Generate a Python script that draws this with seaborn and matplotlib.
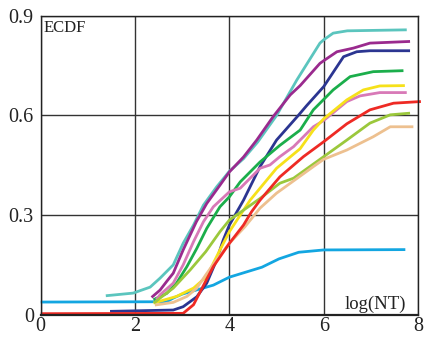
import matplotlib
matplotlib.use("Agg")
import matplotlib.pyplot as plt
import seaborn as sns
import pandas as pd

# ---- data (log(NT) vs ECDF) ----
teal_x = [1.38, 1.96, 2.32, 2.53, 2.81, 3.02, 3.24, 3.45, 3.73, 4.0, 4.3, 4.6, 5.0, 5.43, 5.92, 6.0, 6.2, 6.5, 7.76]
teal_y = [0.057, 0.065, 0.083, 0.11, 0.15, 0.215, 0.27, 0.33, 0.385, 0.432, 0.47, 0.52, 0.60, 0.707, 0.818, 0.828, 0.848, 0.855, 0.858]

purple_x = [2.35, 2.53, 2.67, 2.81, 3.02, 3.3, 3.52, 3.8, 4.0, 4.3, 4.58, 4.93, 5.29, 5.5, 5.92, 6.0, 6.28, 6.63, 6.98, 7.83]
purple_y = [0.052, 0.074, 0.10, 0.125, 0.195, 0.28, 0.335, 0.39, 0.43, 0.475, 0.526, 0.597, 0.662, 0.69, 0.757, 0.765, 0.792, 0.803, 0.818, 0.823]

navy_x = [1.47, 2.81, 3.02, 3.31, 3.52, 3.73, 3.87, 4.0, 4.3, 4.65, 5.0, 5.46, 5.64, 6.0, 6.42, 6.7, 6.98, 7.83]
navy_y = [0.01, 0.014, 0.024, 0.054, 0.095, 0.165, 0.225, 0.27, 0.345, 0.446, 0.526, 0.6, 0.63, 0.687, 0.777, 0.792, 0.795, 0.795]

green_x = [2.39, 2.67, 2.88, 3.1, 3.31, 3.52, 3.8, 4.0, 4.23, 4.65, 5.07, 5.5, 5.78, 6.2, 6.56, 7.05, 7.69]
green_y = [0.045, 0.064, 0.095, 0.145, 0.2, 0.26, 0.325, 0.355, 0.40, 0.46, 0.51, 0.556, 0.617, 0.677, 0.717, 0.732, 0.735]

yellow_x = [2.39, 2.88, 3.24, 3.52, 3.8, 4.0, 4.23, 4.44, 5.0, 5.5, 5.78, 6.0, 6.49, 6.84, 7.19, 7.72]
yellow_y = [0.035, 0.055, 0.08, 0.115, 0.195, 0.25, 0.30, 0.345, 0.441, 0.50, 0.556, 0.59, 0.647, 0.677, 0.689, 0.690]

pink_x = [2.45, 2.53, 2.81, 3.02, 3.24, 3.45, 3.66, 4.0, 4.23, 4.65, 4.86, 5.07, 5.36, 5.78, 6.0, 6.49, 6.77, 7.19, 7.76]
pink_y = [0.045, 0.06, 0.095, 0.15, 0.22, 0.28, 0.325, 0.37, 0.381, 0.441, 0.451, 0.476, 0.506, 0.566, 0.585, 0.642, 0.659, 0.669, 0.669]

lgreen_x = [2.4, 2.53, 2.81, 3.17, 3.5, 3.8, 4.0, 4.4, 4.65, 5.07, 5.36, 6.0, 6.49, 6.98, 7.41, 7.83]
lgreen_y = [0.035, 0.05, 0.08, 0.135, 0.19, 0.25, 0.285, 0.325, 0.35, 0.396, 0.411, 0.476, 0.526, 0.577, 0.602, 0.607]

tan_x = [2.42, 2.81, 3.1, 3.31, 3.5, 3.7, 4.0, 4.33, 4.65, 5.0, 5.78, 6.0, 6.49, 7.05, 7.41, 7.9]
tan_y = [0.029, 0.037, 0.055, 0.08, 0.12, 0.16, 0.215, 0.265, 0.321, 0.366, 0.446, 0.468, 0.496, 0.536, 0.566, 0.566]

lblue_x = [0.0, 2.67, 2.81, 3.0, 3.17, 3.66, 4.0, 4.69, 5.05, 5.47, 6.0, 7.73]
lblue_y = [0.038, 0.039, 0.05, 0.062, 0.069, 0.089, 0.113, 0.143, 0.168, 0.188, 0.195, 0.196]

red_x = [0.0, 3.02, 3.24, 3.45, 3.66, 4.0, 4.3, 4.47, 4.65, 5.07, 5.57, 6.0, 6.49, 6.98, 7.48, 8.06]
red_y = [0.003, 0.004, 0.03, 0.088, 0.145, 0.215, 0.27, 0.31, 0.345, 0.415, 0.476, 0.521, 0.575, 0.617, 0.637, 0.642]

x_ticks = [0, 2, 4, 6, 8]
y_ticks = [0, 0.3, 0.6, 0.9]
y_tick_labels = ["0", "0.3", "0.6", "0.9"]

series = [
    ("lblue", lblue_x, lblue_y, "#13A6E1"),
    ("teal", teal_x, teal_y, "#5BC5BE"),
    ("purple", purple_x, purple_y, "#9A2A8E"),
    ("navy", navy_x, navy_y, "#2B3591"),
    ("green", green_x, green_y, "#1BAE4B"),
    ("pink", pink_x, pink_y, "#D879B7"),
    ("yellow", yellow_x, yellow_y, "#F6E11A"),
    ("lgreen", lgreen_x, lgreen_y, "#9BC83C"),
    ("tan", tan_x, tan_y, "#EDC08F"),
    ("red", red_x, red_y, "#EE2A24"),
]

rows = []
for name, xs, ys, _ in series:
    for i, (xv, yv) in enumerate(zip(xs, ys)):
        rows.append({"series": name, "x": xv, "y": yv, "order": i})
df = pd.DataFrame(rows)
palette = {name: c for name, _, _, c in series}

sns.set_theme(style="white")
plt.rcParams["font.family"] = ["Liberation Serif", "DejaVu Serif"]

fig = plt.figure(figsize=(4.24, 3.38), dpi=100)
ax = fig.add_axes([0.096, 0.069, 0.890, 0.884])

sns.lineplot(data=df, x="x", y="y", hue="series", palette=palette,
             hue_order=[s[0] for s in series], sort=False, estimator=None,
             units="series", linewidth=2.0, legend=False, ax=ax)
for ln in ax.get_lines():
    ln.set_clip_on(False)
    ln.set_solid_capstyle("butt")

ax.set_xlim(0, 8)
ax.set_ylim(0, 0.9)
ax.set_xticks(x_ticks)
ax.set_xticklabels([str(t) for t in x_ticks])
ax.set_yticks(y_ticks)
ax.set_yticklabels(y_tick_labels)
ax.tick_params(axis="both", length=0, labelsize=14.5, colors="#222222")
ax.tick_params(axis="x", pad=2)
ax.tick_params(axis="y", pad=5)
ax.grid(True, color="#333333", linewidth=1.0)
ax.set_axisbelow(True)
for side in ["left", "bottom", "top", "right"]:
    ax.spines[side].set_visible(True)
    ax.spines[side].set_color("#222222")
    ax.spines[side].set_linewidth(1.0)
ax.spines["bottom"].set_linewidth(1.6)
ax.set_xlabel("")
ax.set_ylabel("")

ax.text(0.07, 0.887, "ECDF", fontsize=12, ha="left", va="top", color="#222222")
ax.text(7.75, 0.017, "log(NT)", fontsize=13.5, ha="right", va="baseline", color="#222222")

fig.savefig("out.png", dpi=100)
